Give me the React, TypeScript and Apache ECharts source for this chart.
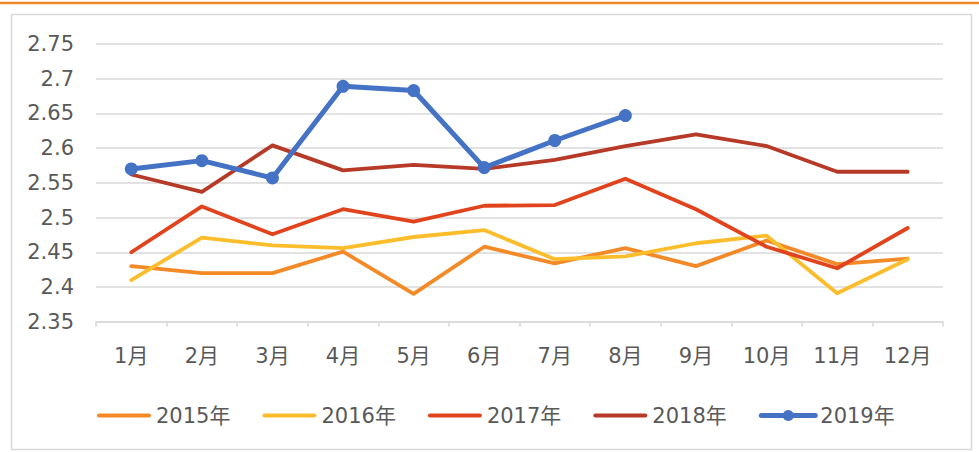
import React, { useEffect, useRef } from "react";
import * as echarts from "echarts";

const months = ["1月", "2月", "3月", "4月", "5月", "6月", "7月", "8月", "9月", "10月", "11月", "12月"];
const seriesNames = ["2015年", "2016年", "2017年", "2018年", "2019年"];
const data2015 = [2.43, 2.42, 2.42, 2.451, 2.39, 2.458, 2.434, 2.456, 2.43, 2.467, 2.433, 2.441];
const data2016 = [2.41, 2.471, 2.46, 2.456, 2.472, 2.482, 2.44, 2.444, 2.463, 2.474, 2.391, 2.44];
const data2017 = [2.45, 2.516, 2.476, 2.512, 2.494, 2.517, 2.518, 2.556, 2.512, 2.458, 2.427, 2.485];
const data2018 = [2.562, 2.537, 2.604, 2.568, 2.576, 2.57, 2.583, 2.603, 2.62, 2.603, 2.566, 2.566];
const data2019 = [2.57, 2.582, 2.557, 2.689, 2.683, 2.572, 2.611, 2.647];
const colors = ["#F38A27", "#FCBD2C", "#E1431C", "#B63A27", "#4472C4"];

const FONT = "'DejaVu Sans', 'Noto Sans CJK SC', sans-serif";
const BAR_ICON = "path://M2,0 H52 A2,2 0 0 1 52,4 H2 A2,2 0 0 1 2,0 Z";

export default function App() {
  const ref = useRef<HTMLDivElement>(null);
  useEffect(() => {
    if (!ref.current) return;
    const chart = echarts.init(ref.current, undefined, { renderer: "svg" });
    const allData = [data2015, data2016, data2017, data2018, data2019];
    const series = allData.map((d, i) => {
      const isLast = i === 4;
      return {
        name: seriesNames[i],
        type: "line",
        data: d,
        z: 2 + i,
        color: colors[i],
        symbol: isLast ? "circle" : "none",
        symbolSize: isLast ? 13 : 0,
        showSymbol: isLast,
        lineStyle: { width: isLast ? 5 : 3.8, color: colors[i], cap: "round", join: "round" },
        itemStyle: { color: colors[i] },
      };
    });
    chart.setOption({
      animation: false,
      textStyle: { fontFamily: FONT },
      grid: { left: 96, right: 36, top: 44, bottom: 130.3, containLabel: false },
      xAxis: {
        type: "category",
        data: months,
        boundaryGap: true,
        axisLine: { show: true, lineStyle: { color: "#D9D9D9", width: 1.5 } },
        axisTick: { show: true, length: 5, alignWithLabel: false, lineStyle: { color: "#D9D9D9", width: 1.5 } },
        axisLabel: { color: "#595959", fontSize: 21, fontFamily: FONT, margin: 24, interval: 0 },
        splitLine: { show: false },
      },
      yAxis: {
        type: "value",
        min: 2.35,
        max: 2.75,
        interval: 0.05,
        axisLine: { show: false },
        axisTick: { show: false },
        axisLabel: { color: "#595959", fontSize: 21, fontFamily: FONT, margin: 22 },
        splitLine: { show: true, lineStyle: { color: "#D9D9D9", width: 1.5 } },
      },
      legend: {
        data: seriesNames.map((n, i) =>
          i < 4 ? { name: n, icon: BAR_ICON } : { name: n, lineStyle: { width: 5, cap: "round" } }
        ),
        left: 92,
        top: 400,
        itemWidth: 54,
        itemHeight: 14,
        itemGap: 32,
        textStyle: { color: "#595959", fontSize: 21, fontFamily: FONT },
      },
      graphic: [
        {
          type: "line",
          shape: { x1: 0, y1: 3, x2: 979, y2: 3 },
          style: { stroke: "#F0862B", lineWidth: 2.5 },
          silent: true,
        },
        {
          type: "rect",
          shape: { x: 11.5, y: 14.5, width: 960, height: 435 },
          style: { fill: "none", stroke: "#D9D9D9", lineWidth: 1.5 },
          silent: true,
        },
      ],
      series,
    });
    return () => chart.dispose();
  }, []);
  return (
    <div
      ref={ref}
      style={{ position: "absolute", left: 0, top: 0, width: 979, height: 452, background: "#fff" }}
    />
  );
}
